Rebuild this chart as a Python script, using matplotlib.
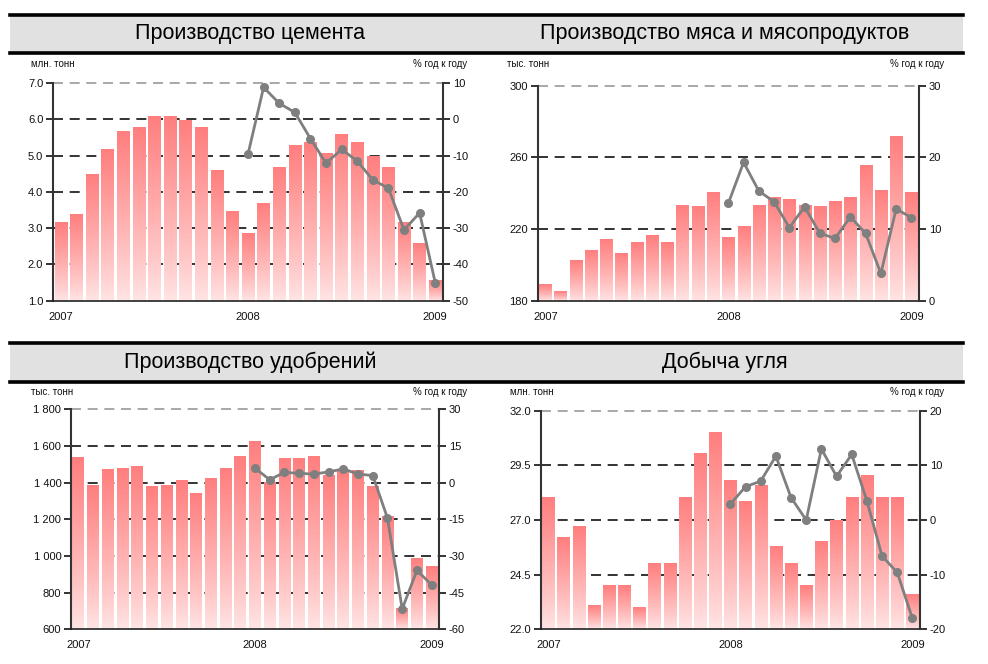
import numpy as np
import matplotlib
matplotlib.use('Agg')
import matplotlib.pyplot as plt
from matplotlib.colors import LinearSegmentedColormap
from matplotlib.patches import Rectangle
from matplotlib.lines import Line2D

plt.rcParams['font.family'] = ['Liberation Sans', 'DejaVu Sans']

# Monthly data, Jan 2007 .. Jan 2009 (25 months); y/y change from Jan 2008
year_ticks = [0, 12, 24]
year_labels = ['2007', '2008', '2009']

cement = [3.17, 3.39, 4.49, 5.18, 5.68, 5.79, 6.09, 6.09, 5.98, 5.79, 4.60, 3.47,
          2.87, 3.69, 4.69, 5.29, 5.38, 5.07, 5.60, 5.38, 4.99, 4.69, 3.17, 2.59,
          1.57]
cement_yoy = [-9.6, 8.8, 4.4, 1.9, -5.3, -12.1, -8.3, -11.5, -16.7, -19.0,
              -30.5, -25.8, -45.0]

meat = [189.1, 185.4, 202.7, 208.3, 214.4, 206.6, 212.7, 216.7, 212.7, 233.4,
        232.8, 240.7, 215.5, 221.7, 233.4, 237.9, 236.7, 233.4, 232.8, 235.6,
        237.9, 255.7, 241.8, 271.9, 240.7]
meat_yoy = [13.6, 19.3, 15.3, 13.8, 10.2, 13.1, 9.4, 8.7, 11.7, 9.4, 3.8,
            12.8, 11.6]

fert = [1534, 1382, 1469, 1475, 1485, 1376, 1382, 1409, 1338, 1420, 1475, 1540,
        1622, 1398, 1529, 1529, 1540, 1436, 1464, 1464, 1376, 1213, 711, 984,
        940]
fert_yoy = [5.9, 1.2, 4.2, 3.8, 3.5, 4.4, 5.6, 3.5, 2.9, -14.5, -51.7,
            -35.9, -41.8]

coal = [28.0, 26.2, 26.7, 23.07, 23.98, 23.98, 22.98, 24.99, 24.99, 28.0,
        30.02, 30.98, 28.78, 27.82, 28.55, 25.77, 24.99, 23.98, 25.99, 26.95,
        28.0, 29.01, 28.0, 28.0, 23.57]
coal_yoy = [2.9, 6.1, 7.1, 11.7, 4.1, 0.0, 13.0, 8.0, 12.0, 3.5, -6.6,
            -9.6, -18.0]

W, H = 988, 664
fig = plt.figure(figsize=(W / 100, H / 100), dpi=100)

bar_cmap = LinearSegmentedColormap.from_list('bar', ['#FFE6E6', '#FF7F7F'])
grad = (np.linspace(0, 1, 256) ** 0.85)[:, None]


def px_rect(left, top, right, bottom):
    return [left / W, 1 - bottom / H, (right - left) / W, (bottom - top) / H]


def title_band(top, bottom, titles):
    band = Rectangle((10 / W, 1 - bottom / H), (963 - 10) / W, (bottom - top) / H,
                     transform=fig.transFigure, facecolor='#E1E1E1',
                     edgecolor='none', zorder=0)
    fig.patches.append(band)
    for yy in (top, bottom):
        fig.lines.append(Line2D([10 / W, 963 / W], [1 - yy / H, 1 - yy / H],
                                transform=fig.transFigure, color='black', lw=2.6))
    for cx, txt in titles:
        fig.text(cx / W, 1 - (top + bottom) / 2 / H, txt, ha='center', va='center',
                 fontsize=15.5, color='black')


def panel(rect, values, yoy, ylim, yticks, ylabels, y2lim, y2ticks, unit,
          unit_pos, pct_pos):
    ax = fig.add_axes(px_rect(*rect))
    x = np.arange(len(values))
    ymin, ymax = ylim

    # dashed grid under the bars
    for t in yticks[1:-1]:
        ax.axhline(t, color='#111111', lw=1.2, dashes=(6, 4), zorder=0.5)
    ax.axhline(ymax, color='#999999', lw=1.2, dashes=(6, 4), zorder=0.5,
               clip_on=False)

    bars = ax.bar(x, values, width=0.8, color='none', zorder=2)
    for b in bars:
        x0 = b.get_x()
        ax.imshow(grad, extent=[x0, x0 + b.get_width(), ymin, b.get_height()],
                  origin='lower', aspect='auto', cmap=bar_cmap, vmin=0, vmax=1,
                  interpolation='bilinear', zorder=2)

    ax.set_xlim(-0.5, len(values) - 0.5)
    ax.set_ylim(ymin, ymax)
    ax.set_yticks(yticks)
    ax.set_yticklabels(ylabels)
    ax.set_xticks(year_ticks)
    ax.set_xticklabels(year_labels)
    ax.tick_params(axis='x', length=0, pad=8, labelsize=8, colors='#111111')
    ax.tick_params(axis='y', length=5, width=1.2, labelsize=8, colors='#111111',
                   pad=2)
    ax.spines['top'].set_visible(False)
    ax.spines['right'].set_visible(False)
    ax.spines['left'].set_color('#333333')
    ax.spines['left'].set_linewidth(1.5)
    ax.spines['bottom'].set_color('#222222')
    ax.spines['bottom'].set_linewidth(1.2)

    ax2 = ax.twinx()
    ax2.plot(x[12:12 + len(yoy)], yoy, color='#7F7F7F', lw=2, marker='o',
             markersize=5.5, zorder=3)
    ax2.set_ylim(*y2lim)
    ax2.set_yticks(y2ticks)
    ax2.set_yticklabels([str(t).replace('\u2212', '-') for t in y2ticks])
    ax2.tick_params(axis='y', length=5, width=1.2, labelsize=8, colors='#111111',
                    pad=2)
    for s in ('top', 'left', 'bottom'):
        ax2.spines[s].set_visible(False)
    ax2.spines['right'].set_color('#333333')
    ax2.spines['right'].set_linewidth(1.5)

    fig.text(unit_pos[0] / W, 1 - unit_pos[1] / H, unit, ha='left', va='center',
             fontsize=7, color='#111111')
    fig.text(pct_pos[0] / W, 1 - pct_pos[1] / H, '% год к году', ha='right',
             va='center', fontsize=7, color='#111111')


title_band(15, 53, [(250, 'Производство цемента'),
                    (725, 'Производство мяса и мясопродуктов')])
title_band(343, 382, [(250, 'Производство удобрений'), (725, 'Добыча угля')])

panel((53, 83, 443, 300.7), cement, cement_yoy, (1.0, 7.0),
      [1, 2, 3, 4, 5, 6, 7], ['1.0', '2.0', '3.0', '4.0', '5.0', '6.0', '7.0'],
      (-50, 10), [-50, -40, -30, -20, -10, 0, 10], 'млн. тонн',
      (31, 64), (467, 64))

panel((537.7, 85.7, 919, 300.7), meat, meat_yoy, (180, 300),
      [180, 220, 260, 300], ['180', '220', '260', '300'],
      (0, 30), [0, 10, 20, 30], 'тыс. тонн',
      (507, 64), (944, 64))

panel((71, 409.3, 439, 629.3), fert, fert_yoy, (600, 1800),
      [600, 800, 1000, 1200, 1400, 1600, 1800],
      ['600', '800', '1 000', '1 200', '1 400', '1 600', '1 800'],
      (-60, 30), [-60, -45, -30, -15, 0, 15, 30], 'тыс. тонн',
      (31, 392), (467, 392))

panel((540.7, 410.7, 920, 629.3), coal, coal_yoy, (22.0, 32.0),
      [22.0, 24.5, 27.0, 29.5, 32.0], ['22.0', '24.5', '27.0', '29.5', '32.0'],
      (-20, 20), [-20, -10, 0, 10, 20], 'млн. тонн',
      (510, 392), (944, 392))

fig.savefig('out.png', dpi=100)
